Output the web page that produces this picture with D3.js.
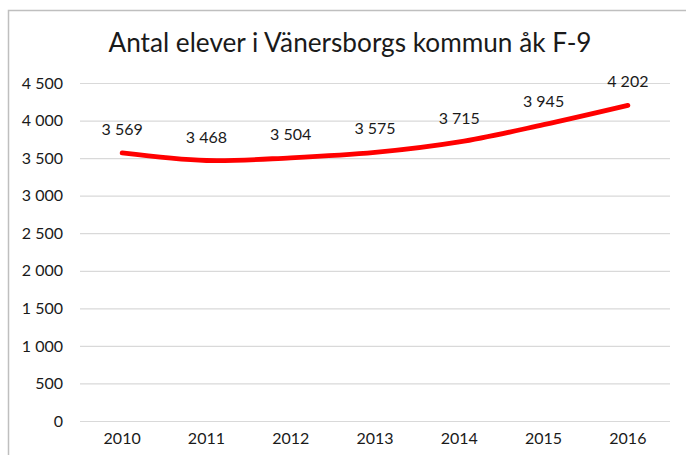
<!DOCTYPE html>
<html>
<head>
<meta charset="utf-8">
<script src="https://cdn.jsdelivr.net/npm/d3@7"></script>
<style>
  html, body { margin: 0; padding: 0; background: #fff; }
  svg { display: block; }
  text { font-family: Lato, "Open Sans", sans-serif; fill: #1a1a1a; }
</style>
</head>
<body>
<svg id="chart" width="686" height="455"></svg>
<script>
// Antal elever per år
const years = ["2010", "2011", "2012", "2013", "2014", "2015", "2016"];
const pupils = [3569, 3468, 3504, 3575, 3715, 3945, 4202];
const yTicks = [0, 500, 1000, 1500, 2000, 2500, 3000, 3500, 4000, 4500];
const title = "Antal elever i Vänersborgs kommun åk F-9";

const W = 686, H = 455;
const svg = d3.select("#chart");
const fmt = v => d3.format(",")(v).replace(/,/g, " ");

// chart frame (extends past the right and bottom edges)
svg.append("rect")
  .attr("x", 8.5).attr("y", 10.5)
  .attr("width", 684).attr("height", 460)
  .attr("fill", "#fff")
  .attr("stroke", "#bfbfbf").attr("stroke-width", 1.5);

const plot = { left: 80, right: 670, top: 83, bottom: 421 };

const x = d3.scaleBand().domain(years).range([plot.left, plot.right]);
const y = d3.scaleLinear().domain([0, 4500]).range([plot.bottom, plot.top]);

// title
svg.append("text")
  .attr("x", 350).attr("y", 52)
  .attr("text-anchor", "middle")
  .style("font-size", "26.2px")
  .text(title);

// gridlines + y labels
const yAxis = d3.axisLeft(y)
  .tickValues(yTicks)
  .tickSize(-(plot.right - plot.left))
  .tickPadding(17)
  .tickFormat(fmt);

const gy = svg.append("g")
  .attr("transform", `translate(${plot.left},0)`)
  .call(yAxis);
gy.select(".domain").remove();
gy.selectAll(".tick line").attr("stroke", "#d9d9d9").attr("stroke-width", 1.2);
gy.selectAll(".tick text")
  .style("font-size", "16px")
  .style("font-family", "Lato, sans-serif")
  .attr("fill", "#1a1a1a");

// x labels
const xAxis = d3.axisBottom(x).tickSize(0).tickPadding(12);
const gx = svg.append("g")
  .attr("transform", `translate(0,${plot.bottom})`)
  .call(xAxis);
gx.select(".domain").remove();
gx.selectAll(".tick text")
  .style("font-size", "16px")
  .style("font-family", "Lato, sans-serif")
  .attr("fill", "#1a1a1a");

// line
const cx = d => x(d) + x.bandwidth() / 2;
const line = d3.line()
  .x((d, i) => cx(years[i]))
  .y(d => y(d))
  .curve(d3.curveCatmullRom.alpha(0.5));

svg.append("path")
  .datum(pupils)
  .attr("d", line)
  .attr("fill", "none")
  .attr("stroke", "#ff0000")
  .attr("stroke-width", 4.8)
  .attr("stroke-linecap", "round")
  .attr("stroke-linejoin", "round");

// value labels
svg.append("g").selectAll("text")
  .data(pupils)
  .join("text")
  .attr("x", (d, i) => cx(years[i]))
  .attr("y", d => y(d) - 18)
  .attr("text-anchor", "middle")
  .style("font-size", "16px")
  .text(d => fmt(d));
</script>
</body>
</html>
